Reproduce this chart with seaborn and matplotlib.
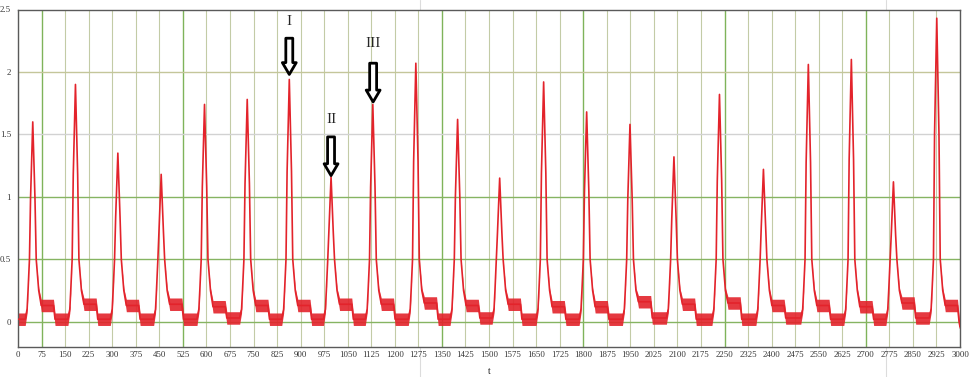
import matplotlib
matplotlib.use("Agg")
import matplotlib.pyplot as plt
from matplotlib.lines import Line2D
import pandas as pd
import seaborn as sns

# peaks of the trace (t, height)
peak_t = [47, 183, 318, 456, 594, 730, 864, 997, 1130, 1267, 1400,
          1534, 1674, 1811, 1949, 2089, 2234, 2374, 2517, 2654, 2788, 2926]
peak_v = [1.60, 1.90, 1.35, 1.18, 1.74, 1.78, 1.94, 1.16, 1.74, 2.07, 1.62,
          1.15, 1.92, 1.68, 1.58, 1.32, 1.82, 1.22, 2.06, 2.10, 1.12, 2.43]
# shelf level after each peak
shelf_v = [0.13, 0.14, 0.13, 0.14, 0.12, 0.13, 0.13, 0.14, 0.14, 0.15, 0.13,
           0.14, 0.12, 0.12, 0.16, 0.14, 0.15, 0.13, 0.13, 0.12, 0.15, 0.13]
# trough level before the first peak and after each peak
trough_v = [0.02, 0.02, 0.02, 0.02, 0.02, 0.03, 0.02, 0.02, 0.02, 0.02, 0.02, 0.03,
            0.02, 0.02, 0.02, 0.03, 0.02, 0.02, 0.03, 0.02, 0.02, 0.03, 0.0]

# one cycle around its peak (offsets in t, levels) read from the first cycles
rise_dt = [-24, -18, -15, -10.5, -7]
rise_v = [None, 0.10, 0.25, 0.50, 0.62]      # None = trough, 0.62 = share of the peak
fall_dt = [7, 11, 19, 27, 66, 71]
fall_v = [0.62, 0.50, 0.25, None, None]
noise = 0.05          # half height of the noisy band on the flat parts
t_end, v_end = 3000, -0.04

arrows = [("I", 864, 2.27, 1.98, 2.40),
          ("II", 997, 1.48, 1.17, 1.62),
          ("III", 1131, 2.07, 1.76, 2.23)]

rows = [(0, trough_v[0], noise)]
for i, (p, h) in enumerate(zip(peak_t, peak_v)):
    rows.append((p + rise_dt[0], trough_v[i], noise))
    rows.append((p + rise_dt[1], rise_v[1], 0.03))
    rows.append((p + rise_dt[2], rise_v[2], 0.01))
    rows.append((p + rise_dt[3], rise_v[3], 0.0))
    rows.append((p + rise_dt[4], rise_v[4] * h, 0.0))
    rows.append((p, h, 0.0))
    rows.append((p + fall_dt[0], fall_v[0] * h, 0.0))
    rows.append((p + fall_dt[1], fall_v[1], 0.0))
    rows.append((p + fall_dt[2], fall_v[2], 0.02))
    rows.append((p + fall_dt[3], shelf_v[i], noise))
    rows.append((min(p + fall_dt[4], t_end - 6), shelf_v[i], noise))
    rows.append((min(p + fall_dt[5], t_end - 3), trough_v[i + 1], noise))
rows.append((t_end, v_end, 0.02))
df = pd.DataFrame(rows, columns=["t", "v", "band"])

sns.set_style("white")
plt.rcParams["font.family"] = ["Liberation Serif", "DejaVu Serif"]

fig = plt.figure(figsize=(9.75, 3.77), dpi=100)
ax = fig.add_axes([18 / 975, 1 - 346.7 / 377, 942 / 975, 337.2 / 377])

# grid
for x in range(0, 3001, 75):
    dark = x in (75, 525, 1350, 1800, 2250, 2700)
    ax.axvline(x, color="#7fb35a" if dark else "#c3cba6", lw=1.0 if dark else 0.8, zorder=0)
hcol = {0: "#86b462", 0.5: "#86b462", 1: "#86b462", 1.5: "#d2d2d2", 2: "#c4c69a"}
for y, c in hcol.items():
    ax.axhline(y, color=c, lw=1.0, zorder=0)

red = "#e3232b"
ax.fill_between(df["t"], df["v"] - df["band"], df["v"] + df["band"],
                color=red, alpha=0.9, lw=0, zorder=2)
sns.lineplot(data=df, x="t", y="v", ax=ax, color=red, lw=1.2,
             estimator=None, sort=False, zorder=3)

for label, x, y0, y1, yl in arrows:
    ax.annotate("", xy=(x, y1), xytext=(x, y0),
                arrowprops=dict(arrowstyle="simple,head_length=0.85,head_width=1.0,tail_width=0.5",
                                fc="white", ec="black", lw=2, mutation_scale=10,
                                shrinkA=0, shrinkB=0), zorder=5)
    ax.text(x, yl, label, ha="center", va="center", fontsize=11, zorder=5)

ax.set_xlim(0, 3000)
ax.set_ylim(-0.2, 2.5)
ax.set_xticks(range(0, 3001, 75))
ax.set_xticklabels([str(x) for x in range(0, 3001, 75)], fontsize=6.3)
ax.set_yticks([0, 0.5, 1, 1.5, 2, 2.5])
ax.set_yticklabels(["0", "0.5", "1", "1.5", "2", "2.5"], fontsize=6.3)
ax.tick_params(axis="x", length=0, pad=3, colors="#333333")
ax.tick_params(axis="y", length=0, pad=5, colors="#333333")
ax.set_xlabel("t", fontsize=7, labelpad=6)
ax.set_ylabel("")
for s in ax.spines.values():
    s.set_color("#5a5a5a")
    s.set_linewidth(1)

# faint seams of the original screenshot
for xf in (420 / 975, 886 / 975):
    fig.add_artist(Line2D([xf, xf], [0, 1], color="#dcdcdc", lw=0.8, zorder=0))

fig.savefig("out.png", dpi=100)
